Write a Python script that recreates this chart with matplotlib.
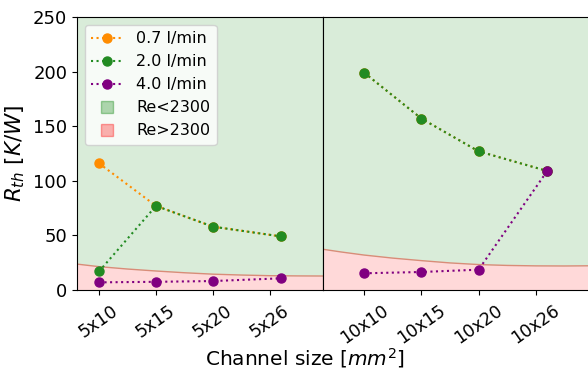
import matplotlib
matplotlib.use("Agg")
import matplotlib.pyplot as plt
from matplotlib.lines import Line2D

# channel lengths (x position) and tick labels
x_pos = [10, 15, 20, 26]
tick_pos = [10, 15, 20, 25]
labels_5 = ['5x10', '5x15', '5x20', '5x26']
labels_10 = ['10x10', '10x15', '10x20', '10x26']

# thermal resistance, 5 mm channels
r5_07 = [116, 77, 58, 49]
r5_20 = [17, 77, 58, 49]
r5_40 = [7, 7.5, 8.2, 10.7]

# thermal resistance, 10 mm channels
r10_07 = [199, 157, 127, 109]
r10_20 = [199, 157, 127, 109]
r10_40 = [15.3, 16.5, 18.6, 109]

# Re=2300 boundary
bx_5 = [8, 10, 12.5, 15, 17.5, 20, 22.5, 25, 27.5, 30]
b_5 = [23.8, 21.4, 19.2, 17.4, 15.8, 14.5, 13.7, 13.1, 12.9, 12.8]
bx_10 = [6.4, 8, 10, 12.5, 15, 17.5, 20, 22.5, 25, 27.5, 30]
b_10 = [37.3, 34.8, 32, 29.2, 26.9, 24.8, 23.3, 22.5, 22.1, 22.0, 22.2]

ymax = 250

fig = plt.figure(figsize=(5.88, 3.74), dpi=100)
ax1 = fig.add_axes([77/588, 84/374, 246/588, 273/374])
ax2 = fig.add_axes([323/588, 84/374, 266/588, 273/374], sharey=ax1)

panels = [(ax1, r5_07, r5_20, r5_40, bx_5, b_5, labels_5, (8.07, 29.65)),
          (ax2, r10_07, r10_20, r10_40, bx_10, b_10, labels_10, (6.4, 29.65))]

for ax, a, b, c, bx, bb, labs, xl in panels:
    ax.fill_between(bx, bb, ymax, color='green', alpha=0.15, lw=0)
    ax.fill_between(bx, 0, bb, color='red', alpha=0.15, lw=0)
    ax.plot(bx, bb, color='#d98c78', lw=1)
    ax.plot(x_pos, a, ':o', color='darkorange', lw=1.5, ms=6.5)
    ax.plot(x_pos, b, ':o', color='forestgreen', lw=1.5, ms=6.5)
    ax.plot(x_pos, c, ':o', color='purple', lw=1.5, ms=6.5)
    ax.set_xticks(tick_pos)
    ax.set_xticklabels(labs, rotation=35, fontsize=12.5)
    ax.tick_params(axis='x', pad=5)
    ax.set_xlim(*xl)
    ax.set_ylim(0, ymax)

ax1.set_yticks([0, 50, 100, 150, 200, 250])
ax1.tick_params(axis='y', labelsize=13)
ax2.tick_params(axis='y', left=False, labelleft=False)
ax1.set_ylabel(r'$R_{th}$ $[K/W]$', fontsize=15.5)
fig.text(305/588, 1 - 358/374, r'Channel size [$mm^2$]', fontsize=14.5,
         ha='center', va='center')

handles = [Line2D([], [], ls=':', marker='o', color='darkorange', lw=1.5, ms=6.5),
           Line2D([], [], ls=':', marker='o', color='forestgreen', lw=1.5, ms=6.5),
           Line2D([], [], ls=':', marker='o', color='purple', lw=1.5, ms=6.5),
           Line2D([], [], ls='none', marker='s', ms=8, mfc=(0, 0.5, 0, 0.3),
                  mec=(0, 0.5, 0, 0.35)),
           Line2D([], [], ls='none', marker='s', ms=8, mfc=(1, 0, 0, 0.3),
                  mec=(1, 0, 0, 0.35))]
ax1.legend(handles, ['0.7 l/min', '2.0 l/min', '4.0 l/min', 'Re<2300', 'Re>2300'],
           loc='upper left', fontsize=11.5, labelspacing=0.5)

fig.savefig('out.png', dpi=100)
